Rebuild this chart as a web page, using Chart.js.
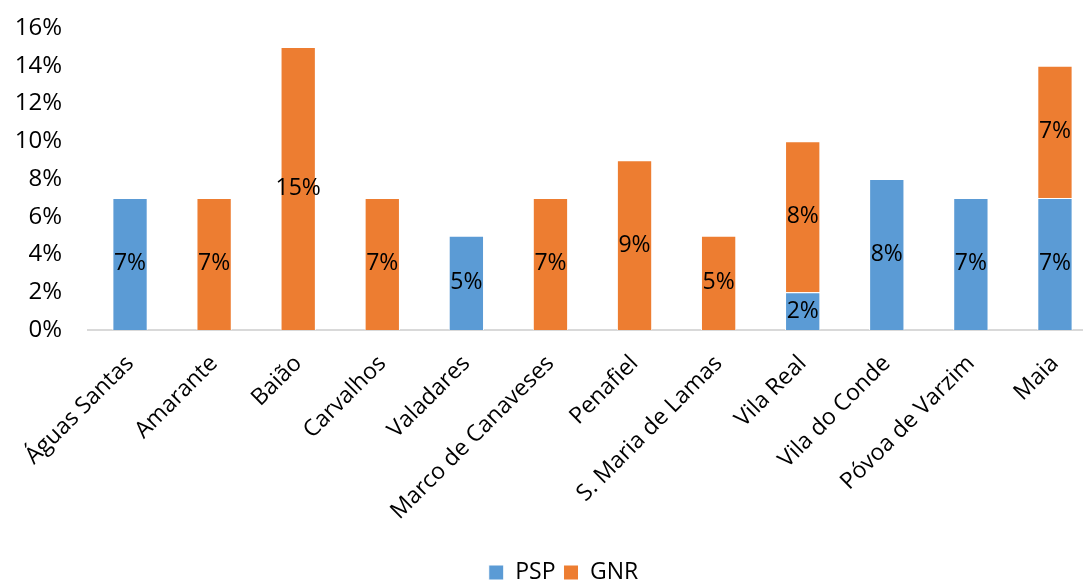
<!DOCTYPE html>
<html>
<head>
<meta charset="utf-8">
<script src="https://cdn.jsdelivr.net/npm/chart.js@4"></script>
<style>
  html, body { margin: 0; padding: 0; background: #fff; overflow: hidden; }
  #wrap { width: 1100px; height: 580px; }
</style>
</head>
<body>
<div id="wrap"><canvas id="barChart"></canvas></div>
<script>
const categories = [
  "Águas Santas", "Amarante", "Baião", "Carvalhos", "Valadares",
  "Marco de Canaveses", "Penafiel", "S. Maria de Lamas", "Vila Real",
  "Vila do Conde", "Póvoa de Varzim", "Maia"
];
const pspValues = [7, 0, 0, 0, 5, 0, 0, 0, 2, 8, 7, 7];
const gnrValues = [0, 7, 15, 7, 0, 7, 9, 5, 8, 0, 0, 7];
const yTicks = [0, 2, 4, 6, 8, 10, 12, 14, 16];

const FONT = "'Open Sans', sans-serif";

// draw the % labels in the middle of each segment
const segmentLabels = {
  id: "segmentLabels",
  afterDatasetsDraw(chart) {
    const ctx = chart.ctx;
    ctx.save();
    ctx.font = "23px " + FONT;
    ctx.fillStyle = "#000";
    ctx.textAlign = "center";
    ctx.textBaseline = "middle";
    chart.data.datasets.forEach((ds, i) => {
      const meta = chart.getDatasetMeta(i);
      meta.data.forEach((bar, j) => {
        const v = ds.data[j];
        if (!v) return;
        ctx.fillText(v + "%", bar.x, (bar.y + bar.base) / 2);
      });
    });
    ctx.restore();
  }
};

// nudge the legend a bit to the right, like the original
const legendShift = {
  id: "legendShift",
  afterLayout(chart) {
    if (chart.legend) chart.legend.left += 30;
  }
};

const ctx = document.getElementById("barChart").getContext("2d");
new Chart(ctx, {
  type: "bar",
  data: {
    labels: categories,
    datasets: [
      {
        label: "PSP",
        data: pspValues,
        backgroundColor: "#5B9BD5",
        borderColor: "#fff",
        borderWidth: 1,
        barPercentage: 0.42,
        categoryPercentage: 1
      },
      {
        label: "GNR",
        data: gnrValues,
        backgroundColor: "#ED7D31",
        borderColor: "#fff",
        borderWidth: 1,
        barPercentage: 0.42,
        categoryPercentage: 1
      }
    ]
  },
  options: {
    responsive: true,
    maintainAspectRatio: false,
    animation: false,
    layout: { padding: { top: 28, right: 3, left: 0, bottom: -14 } },
    scales: {
      x: {
        stacked: true,
        grid: { display: false, drawTicks: false },
        border: { color: "#d9d9d9", width: 2 },
        ticks: {
          color: "#000",
          font: { family: FONT, size: 23 },
          minRotation: 45,
          maxRotation: 45,
          autoSkip: false,
          padding: 20
        },
        afterFit(scale) { scale.height = 223; }
      },
      y: {
        stacked: true,
        min: 0,
        max: 16,
        afterBuildTicks(scale) { scale.ticks = yTicks.map(v => ({ value: v })); },
        grid: { display: false, drawTicks: false },
        border: { display: false },
        ticks: {
          color: "#000",
          font: { family: FONT, size: 24 },
          padding: 26,
          callback: v => v + "%"
        },
        afterFit(scale) {
          scale.width = 88;
          scale.paddingTop = 0;
          scale.paddingBottom = 0;
        }
      }
    },
    plugins: {
      legend: {
        position: "bottom",
        labels: {
          color: "#000",
          font: { family: FONT, size: 23 },
          boxWidth: 15,
          boxHeight: 15,
          padding: 8
        }
      },
      tooltip: { enabled: false }
    }
  },
  plugins: [segmentLabels, legendShift]
});
</script>
</body>
</html>
